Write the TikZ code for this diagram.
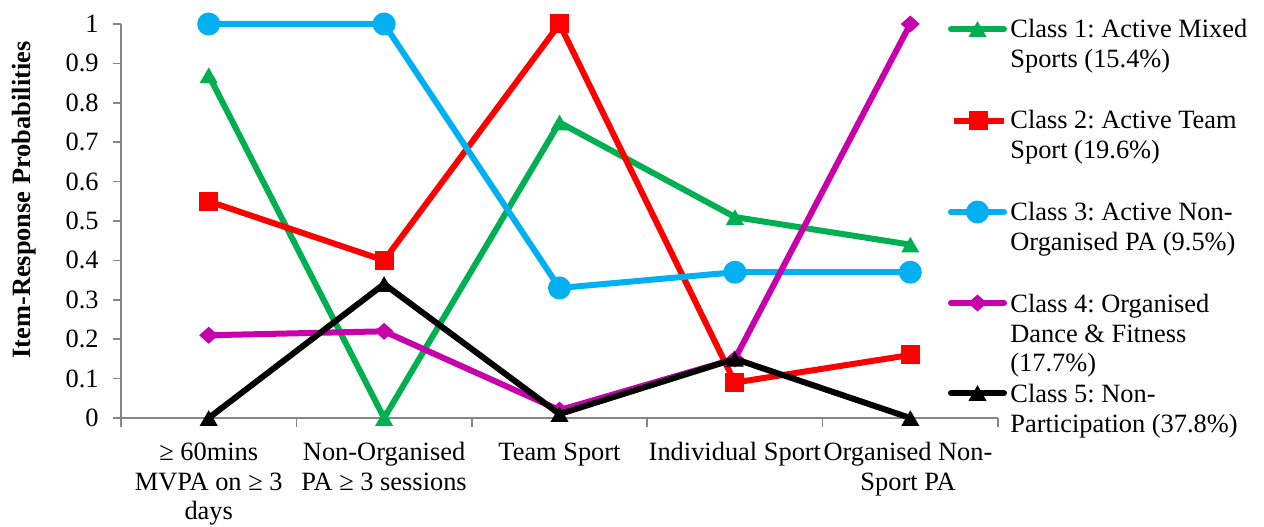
\documentclass[tikz,border=0pt]{standalone}
\usepackage{fontspec}
\setmainfont{Liberation Serif}
\usetikzlibrary{shapes.geometric}
\definecolor{cA}{RGB}{0,176,80}
\definecolor{cB}{RGB}{255,0,0}
\definecolor{cC}{RGB}{0,176,240}
\definecolor{cD}{RGB}{200,0,172}
\definecolor{cE}{RGB}{0,0,0}
\definecolor{axisgray}{RGB}{134,134,134}
\frenchspacing
\begin{document}
\begin{tikzpicture}[x=0.5pt,y=0.5pt,
  font=\fontsize{13.2}{15}\selectfont,
  series/.style={line width=3pt, line join=round, line cap=round},
  axisline/.style={draw=axisgray, line width=0.75pt},
  tri/.style={regular polygon, regular polygon sides=3, minimum size=10.4pt, inner sep=0pt, outer sep=0pt, fill=#1, draw=none, yshift=-1.3pt},
  sq/.style={rectangle, minimum size=9.5pt, inner sep=0pt, outer sep=0pt, fill=#1, draw=none},
  circ/.style={circle, minimum size=11.5pt, inner sep=0pt, outer sep=0pt, fill=#1, draw=none},
  dia/.style={diamond, minimum width=9.5pt, minimum height=8.5pt, inner sep=0pt, outer sep=0pt, fill=#1, draw=none},
  ticklab/.style={anchor=east, inner sep=0pt},
  catlab/.style={anchor=base, inner sep=0pt},
  leglab/.style={anchor=base west, inner sep=0pt},
]
\useasboundingbox (0,0) rectangle (1264,526);

% y-axis title
\node[rotate=90, font=\fontsize{13.2}{15}\selectfont\bfseries, inner sep=0pt] (ytitle) at (24,326) {Item-Response Probabilities};

\begin{scope}[shift={(0,108)}, y=197pt]
  % axes
  \coordinate (o) at (121,0);
  \coordinate (ytop) at (121,1);
  \coordinate (xend) at (998,0);
  \draw[axisline] (o) -- (ytop);
  \draw[axisline] (o) -- (xend);
  \foreach \v in {0,0.1,...,1.01} {
    \draw[axisline] (113,\v) -- (121,\v);
  }
  \foreach \k in {0,...,5} {
    \draw[axisline] ({121+175.4*\k},0) -- ({121+175.4*\k},-0.0228);
  }
  \node[ticklab] (t0) at (99,0) {0};
  \node[ticklab] (t1) at (99,0.1) {0.1};
  \node[ticklab] (t2) at (99,0.2) {0.2};
  \node[ticklab] (t3) at (99,0.3) {0.3};
  \node[ticklab] (t4) at (99,0.4) {0.4};
  \node[ticklab] (t5) at (99,0.5) {0.5};
  \node[ticklab] (t6) at (99,0.6) {0.6};
  \node[ticklab] (t7) at (99,0.7) {0.7};
  \node[ticklab] (t8) at (99,0.8) {0.8};
  \node[ticklab] (t9) at (99,0.9) {0.9};
  \node[ticklab] (t10) at (99,1) {1};

  % data coordinates
  \def\xa{208.7}\def\xb{384.1}\def\xc{559.5}\def\xd{734.9}\def\xe{910.3}
  \coordinate (a1) at (\xa,0.87); \coordinate (a2) at (\xb,0);    \coordinate (a3) at (\xc,0.75); \coordinate (a4) at (\xd,0.51); \coordinate (a5) at (\xe,0.44);
  \coordinate (b1) at (\xa,0.55); \coordinate (b2) at (\xb,0.40); \coordinate (b3) at (\xc,1);    \coordinate (b4) at (\xd,0.09); \coordinate (b5) at (\xe,0.16);
  \coordinate (c1) at (\xa,1);    \coordinate (c2) at (\xb,1);    \coordinate (c3) at (\xc,0.33); \coordinate (c4) at (\xd,0.37); \coordinate (c5) at (\xe,0.37);
  \coordinate (d1) at (\xa,0.21); \coordinate (d2) at (\xb,0.22); \coordinate (d3) at (\xc,0.02); \coordinate (d4) at (\xd,0.15); \coordinate (d5) at (\xe,1);
  \coordinate (e1) at (\xa,0);    \coordinate (e2) at (\xb,0.34); \coordinate (e3) at (\xc,0.01); \coordinate (e4) at (\xd,0.15); \coordinate (e5) at (\xe,0);

  % series 1
  \draw[series, cA] (a1) -- (a2) -- (a3) -- (a4) -- (a5);
  \foreach \i in {1,...,5} { \node[tri=cA] (ma\i) at (a\i) {}; }
  % series 2
  \draw[series, cB] (b1) -- (b2) -- (b3) -- (b4) -- (b5);
  \foreach \i in {1,...,5} { \node[sq=cB] (mb\i) at (b\i) {}; }
  % series 3
  \draw[series, cC] (c1) -- (c2) -- (c3) -- (c4) -- (c5);
  \foreach \i in {1,...,5} { \node[circ=cC] (mc\i) at (c\i) {}; }
  % series 4
  \draw[series, cD] (d1) -- (d2) -- (d3) -- (d4) -- (d5);
  \foreach \i in {1,...,5} { \node[dia=cD] (md\i) at (d\i) {}; }
  % series 5
  \draw[series, cE] (e1) -- (e2) -- (e3) -- (e4) -- (e5);
  \foreach \i in {1,...,5} { \node[tri=cE] (me\i) at (e\i) {}; }
\end{scope}

% category labels
\node[catlab] (k1a) at (208.7,66) {\char"2265\ 60mins};
\node[catlab] (k1b) at (208.7,36) {MVPA on \char"2265\ 3};
\node[catlab] (k1c) at (208.7,7) {days};
\node[catlab] (k2a) at (384.1,66) {Non-Organised};
\node[catlab] (k2b) at (384.1,36) {PA \char"2265\ 3 sessions};
\node[catlab] (k3a) at (559.5,66) {Team Sport};
\node[catlab] (k4a) at (734.9,66) {Individual Sport};
\node[catlab] (k5a) at (908,66) {Organised Non-};
\node[catlab] (k5b) at (908,36) {Sport PA};

% legend
\coordinate (la0) at (951,497); \coordinate (la1) at (1004,497); \coordinate (lam) at (977.5,497);
\coordinate (lb0) at (954,405); \coordinate (lb1) at (1004,405); \coordinate (lbm) at (978,405);
\coordinate (lc0) at (951,314); \coordinate (lc1) at (1004,314); \coordinate (lcm) at (977.5,314);
\coordinate (ld0) at (951,223); \coordinate (ld1) at (1004,223); \coordinate (ldm) at (977.5,223);
\coordinate (le0) at (951,133); \coordinate (le1) at (1004,133); \coordinate (lem) at (977.5,133);
\draw[series, cA] (la0) -- (la1); \node[tri=cA] (lma) at (lam) {};
\draw[series, cB, line cap=butt] (lb0) -- (lb1); \node[sq=cB] (lmb) at (lbm) {};
\draw[series, cC] (lc0) -- (lc1); \node[circ=cC] (lmc) at (lcm) {};
\draw[series, cD] (ld0) -- (ld1); \node[dia=cD] (lmd) at (ldm) {};
\draw[series, cE] (le0) -- (le1); \node[tri=cE] (lme) at (lem) {};

\node[leglab] (ta1) at (1010,488) {Class 1: Active Mixed};
\node[leglab] (ta2) at (1010,458) {Sports (15.4\%)};
\node[leglab] (tb1) at (1010,397) {Class 2: Active Team};
\node[leglab] (tb2) at (1010,367) {Sport (19.6\%)};
\node[leglab] (tc1) at (1010,306) {Class 3: Active Non-};
\node[leglab] (tc2) at (1010,276) {Organised PA (9.5\%)};
\node[leglab] (td1) at (1010,214) {Class 4: Organised};
\node[leglab] (td2) at (1010,184) {Dance \& Fitness};
\node[leglab] (td3) at (1010,155) {(17.7\%)};
\node[leglab] (te1) at (1010,124) {Class 5: Non-};
\node[leglab] (te2) at (1010,94) {Participation (37.8\%)};
\end{tikzpicture}
\end{document}
